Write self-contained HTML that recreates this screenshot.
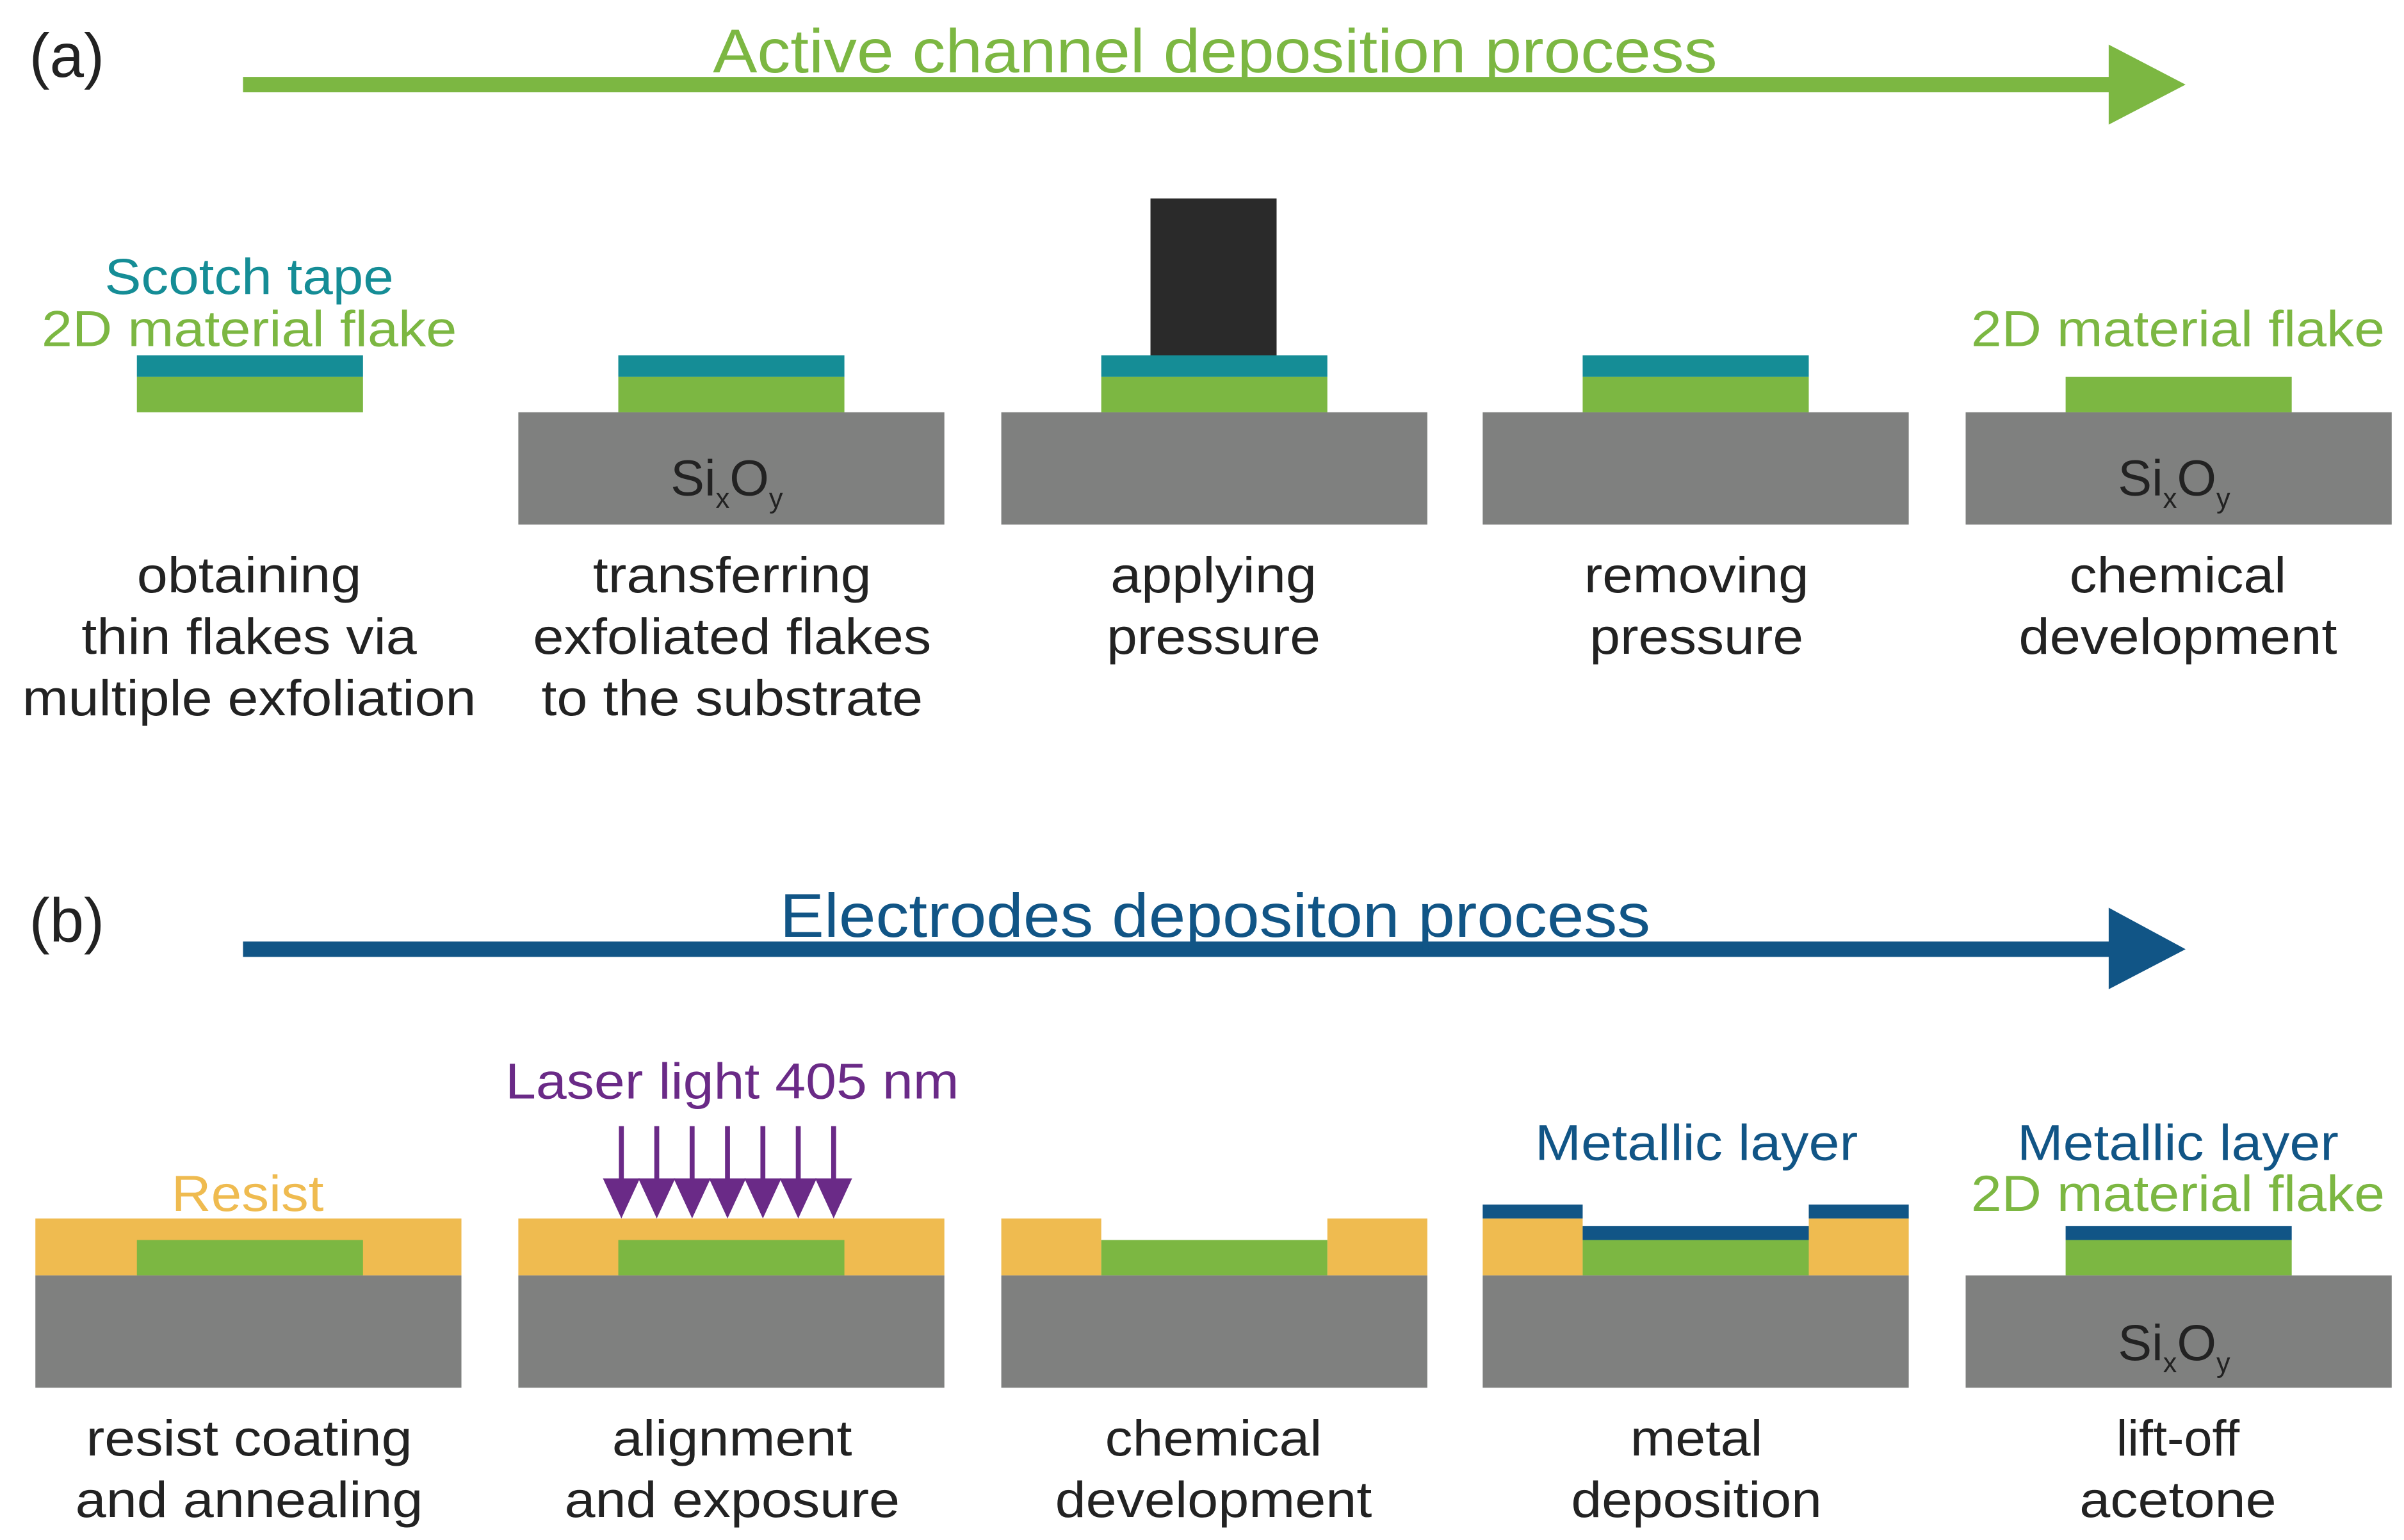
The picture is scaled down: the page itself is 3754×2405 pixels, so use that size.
<!DOCTYPE html>
<html><head><meta charset="utf-8"><style>
html,body{margin:0;padding:0;background:#fff}
svg{display:block}
text{font-family:"Liberation Sans",sans-serif}
</style></head><body>
<svg width="3754" height="2405" viewBox="0 0 1563 1001" preserveAspectRatio="none" xmlns="http://www.w3.org/2000/svg">
<defs>
<g id="arr"><rect x="-1.6" y="0" width="3.2" height="36" fill="#6a2a87"/><polygon points="-12,34 12,34 0,60" fill="#6a2a87"/></g>
</defs>
<!-- (a) -->
<text x="19" y="50" font-size="40" fill="#222">(a)</text>
<rect x="158" y="50" width="1215" height="10" fill="#7cb742"/>
<polygon points="1371,29 1421,55 1371,81" fill="#7cb742"/>
<text x="790" y="47" font-size="40" fill="#7cb742" text-anchor="middle" textLength="653" lengthAdjust="spacingAndGlyphs">Active channel deposition process</text>

<!-- col1 a -->
<text x="162" y="191" font-size="33" fill="#158d96" text-anchor="middle" textLength="188" lengthAdjust="spacingAndGlyphs">Scotch tape</text>
<text x="162" y="225" font-size="33" fill="#7cb742" text-anchor="middle" textLength="270" lengthAdjust="spacingAndGlyphs">2D material flake</text>
<rect x="89" y="231" width="147" height="14" fill="#158d96"/>
<rect x="89" y="245" width="147" height="23" fill="#7cb742"/>
<!-- col2 a -->
<rect x="337" y="268" width="277" height="73" fill="#7f807f"/>
<rect x="402" y="231" width="147" height="14" fill="#158d96"/>
<rect x="402" y="245" width="147" height="23" fill="#7cb742"/>
<text x="436" y="322" font-size="33" fill="#222">Si<tspan font-size="18" dy="8">x</tspan><tspan dy="-8">O</tspan><tspan font-size="18" dy="8">y</tspan></text>
<!-- col3 a -->
<rect x="651" y="268" width="277" height="73" fill="#7f807f"/>
<rect x="716" y="231" width="147" height="14" fill="#158d96"/>
<rect x="716" y="245" width="147" height="23" fill="#7cb742"/>
<rect x="748" y="129" width="82" height="102" fill="#2a2a2a"/>
<!-- col4 a -->
<rect x="964" y="268" width="277" height="73" fill="#7f807f"/>
<rect x="1029" y="231" width="147" height="14" fill="#158d96"/>
<rect x="1029" y="245" width="147" height="23" fill="#7cb742"/>
<!-- col5 a -->
<text x="1416" y="225" font-size="33" fill="#7cb742" text-anchor="middle" textLength="269" lengthAdjust="spacingAndGlyphs">2D material flake</text>
<rect x="1278" y="268" width="277" height="73" fill="#7f807f"/>
<rect x="1343" y="245" width="147" height="23" fill="#7cb742"/>
<text x="1377" y="322" font-size="33" fill="#222">Si<tspan font-size="18" dy="8">x</tspan><tspan dy="-8">O</tspan><tspan font-size="18" dy="8">y</tspan></text>

<g font-size="33" fill="#222" text-anchor="middle">
<text x="162" y="385" textLength="146" lengthAdjust="spacingAndGlyphs">obtaining</text>
<text x="162" y="425" textLength="218" lengthAdjust="spacingAndGlyphs">thin flakes via</text>
<text x="162" y="465" textLength="295" lengthAdjust="spacingAndGlyphs">multiple exfoliation</text>
<text x="476" y="385" textLength="181" lengthAdjust="spacingAndGlyphs">transferring</text>
<text x="476" y="425" textLength="259" lengthAdjust="spacingAndGlyphs">exfoliated flakes</text>
<text x="476" y="465" textLength="248" lengthAdjust="spacingAndGlyphs">to the substrate</text>
<text x="789" y="385" textLength="134" lengthAdjust="spacingAndGlyphs">applying</text>
<text x="789" y="425" textLength="139" lengthAdjust="spacingAndGlyphs">pressure</text>
<text x="1103" y="385" textLength="146" lengthAdjust="spacingAndGlyphs">removing</text>
<text x="1103" y="425" textLength="139" lengthAdjust="spacingAndGlyphs">pressure</text>
<text x="1416" y="385" textLength="141" lengthAdjust="spacingAndGlyphs">chemical</text>
<text x="1416" y="425" textLength="207" lengthAdjust="spacingAndGlyphs">development</text>

<text x="162" y="946" textLength="212" lengthAdjust="spacingAndGlyphs">resist coating</text>
<text x="162" y="986" textLength="226" lengthAdjust="spacingAndGlyphs">and annealing</text>
<text x="476" y="946" textLength="156" lengthAdjust="spacingAndGlyphs">alignment</text>
<text x="476" y="986" textLength="218" lengthAdjust="spacingAndGlyphs">and exposure</text>
<text x="789" y="946" textLength="141" lengthAdjust="spacingAndGlyphs">chemical</text>
<text x="789" y="986" textLength="206" lengthAdjust="spacingAndGlyphs">development</text>
<text x="1103" y="946" textLength="86" lengthAdjust="spacingAndGlyphs">metal</text>
<text x="1103" y="986" textLength="163" lengthAdjust="spacingAndGlyphs">deposition</text>
<text x="1416" y="946">lift-off</text>
<text x="1416" y="986" textLength="128" lengthAdjust="spacingAndGlyphs">acetone</text>
</g>

<!-- (b) -->
<text x="19" y="612" font-size="40" fill="#222">(b)</text>
<rect x="158" y="612" width="1215" height="10" fill="#115586"/>
<polygon points="1371,590 1421,617 1371,643" fill="#115586"/>
<text x="790" y="609" font-size="40" fill="#115586" text-anchor="middle" textLength="566" lengthAdjust="spacingAndGlyphs">Electrodes depositon process</text>

<!-- col1 b -->
<text x="161" y="787" font-size="33" fill="#efbb50" text-anchor="middle" textLength="99" lengthAdjust="spacingAndGlyphs">Resist</text>
<rect x="23" y="792" width="277" height="37" fill="#efbb50"/>
<rect x="89" y="806" width="147" height="23" fill="#7cb742"/>
<rect x="23" y="829" width="277" height="73" fill="#7f807f"/>
<!-- col2 b -->
<text x="476" y="714" font-size="33" fill="#6a2a87" text-anchor="middle" textLength="295" lengthAdjust="spacingAndGlyphs">Laser light 405 nm</text>
<rect x="337" y="792" width="277" height="37" fill="#efbb50"/>
<rect x="402" y="806" width="147" height="23" fill="#7cb742"/>
<rect x="337" y="829" width="277" height="73" fill="#7f807f"/>
<use href="#arr" x="404" y="732"/><use href="#arr" x="427" y="732"/><use href="#arr" x="450" y="732"/><use href="#arr" x="473" y="732"/><use href="#arr" x="496" y="732"/><use href="#arr" x="519" y="732"/><use href="#arr" x="542" y="732"/>
<!-- col3 b -->
<rect x="651" y="792" width="65" height="37" fill="#efbb50"/>
<rect x="863" y="792" width="65" height="37" fill="#efbb50"/>
<rect x="716" y="806" width="147" height="23" fill="#7cb742"/>
<rect x="651" y="829" width="277" height="73" fill="#7f807f"/>
<!-- col4 b -->
<text x="1103" y="754" font-size="33" fill="#115586" text-anchor="middle" textLength="210" lengthAdjust="spacingAndGlyphs">Metallic layer</text>
<rect x="964" y="792" width="65" height="37" fill="#efbb50"/>
<rect x="1176" y="792" width="65" height="37" fill="#efbb50"/>
<rect x="964" y="783" width="65" height="9" fill="#115586"/>
<rect x="1176" y="783" width="65" height="9" fill="#115586"/>
<rect x="1029" y="797" width="147" height="9" fill="#115586"/>
<rect x="1029" y="806" width="147" height="23" fill="#7cb742"/>
<rect x="964" y="829" width="277" height="73" fill="#7f807f"/>
<!-- col5 b -->
<text x="1416" y="754" font-size="33" fill="#115586" text-anchor="middle" textLength="209" lengthAdjust="spacingAndGlyphs">Metallic layer</text>
<text x="1416" y="787" font-size="33" fill="#7cb742" text-anchor="middle" textLength="269" lengthAdjust="spacingAndGlyphs">2D material flake</text>
<rect x="1343" y="797" width="147" height="9" fill="#115586"/>
<rect x="1343" y="806" width="147" height="23" fill="#7cb742"/>
<rect x="1278" y="829" width="277" height="73" fill="#7f807f"/>
<text x="1377" y="884" font-size="33" fill="#222">Si<tspan font-size="18" dy="8">x</tspan><tspan dy="-8">O</tspan><tspan font-size="18" dy="8">y</tspan></text>
</svg>
</body></html>
